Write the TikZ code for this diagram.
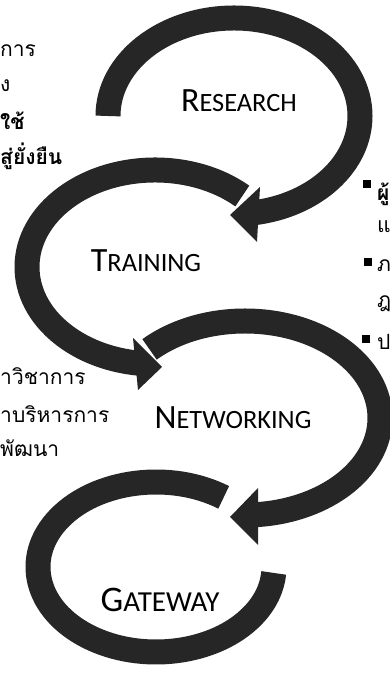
\documentclass[tikz,border=0pt]{standalone}
\usepackage{fontspec}
\setmainfont{Carlito}
\newfontfamily\thaifont[Script=Thai]{Loma}
\usetikzlibrary{calc}
\def\stagename#1#2#3#4{{\fontsize{#1}{#1}\selectfont #3}{\fontsize{#2}{#2}\selectfont #4}}
\tikzset{
  band/.style={line width=25pt, draw=black!85},
  bandhead/.style={fill=black!85},
  stage/.style={inner sep=0pt},
  thaitext/.style={anchor=base west, inner sep=0pt, font=\thaifont\fontsize{21}{21}\selectfont},
}

\begin{document}
\begin{tikzpicture}[x=1pt,y=1pt]
			%%%%% START %%%%%
			\useasboundingbox (0,0) rectangle (390,677);
			\clip (0,0) rectangle (390,677);
			
			\coordinate (research) at (234,561);
			\coordinate (training) at (155,410);
			\coordinate (networking) at (245,259);
			\coordinate (gateway) at (156,110);
			
			% research loop
			\draw[band] ($(research)+(180:126 and 98)$) arc[start angle=180, end angle=-81, x radius=126, y radius=98];
			\fill[bandhead] (230,462) -- (260,490) -- (257,435) -- cycle;
			
			% training loop
			\draw[band] ($(training)+(47:128 and 97)$) arc[start angle=47, end angle=263, x radius=128, y radius=97];
			\fill[bandhead] (162,310) -- (133,339) -- (138,287) -- cycle;
			
			% networking loop
			\draw[band] ($(networking)+(135:135 and 97)$) arc[start angle=135, end angle=-86, x radius=135, y radius=97];
			\fill[bandhead] (230,160) -- (258,189) -- (258,132) -- cycle;
			
			% gateway loop
			\draw[band] ($(gateway)+(55:118 and 85)$) arc[start angle=55, end angle=356, x radius=118, y radius=85];
			
			\node[stage] (researchlbl) at (239,576) {\stagename{34}{26.4}{R}{ESEARCH}};
			\node[stage] (traininglbl) at (146,416) {\stagename{34}{26.4}{T}{RAINING}};
			\node[stage] (networkinglbl) at (233,259) {\stagename{34}{26.4}{N}{ETWORKING}};
			\node[stage] (gatewaylbl) at (160,77) {\stagename{36}{29}{G}{ATEWAY}};
			
			% text at the left edge
			\node[thaitext] (topa) at (0,620) {การ};
			\node[thaitext] (topb) at (0,585) {ง};
			\node[thaitext, font=\thaifont\bfseries\fontsize{21}{21}\selectfont] (topc) at (0,547) {ใช้};
			\node[thaitext, font=\thaifont\bfseries\fontsize{21}{21}\selectfont] (topd) at (0,512) {สู่ยั่งยืน};
			\node[thaitext] (lowa) at (0,292) {าวิชาการ};
			\node[thaitext] (lowb) at (0,254) {าบริหารการ};
			\node[thaitext] (lowc) at (0,220) {พัฒนา};
			
			% text at the right edge
			\fill (363,489) rectangle ++(8,8);
			\fill (364,411) rectangle ++(8,8);
			\fill (362,334) rectangle ++(8,8);
			\node[thaitext, font=\thaifont\bfseries\fontsize{21}{21}\selectfont] (righta) at (377,476) {ผู้};
			\node[thaitext] (rightb) at (377,444) {แ};
			\node[thaitext] (rightc) at (377,405) {ภ};
			\node[thaitext] (rightd) at (377,369) {ฎ};
			\node[thaitext] (righte) at (377,327) {ป};
			%%%%% END %%%%%
\end{tikzpicture}
\end{document}
